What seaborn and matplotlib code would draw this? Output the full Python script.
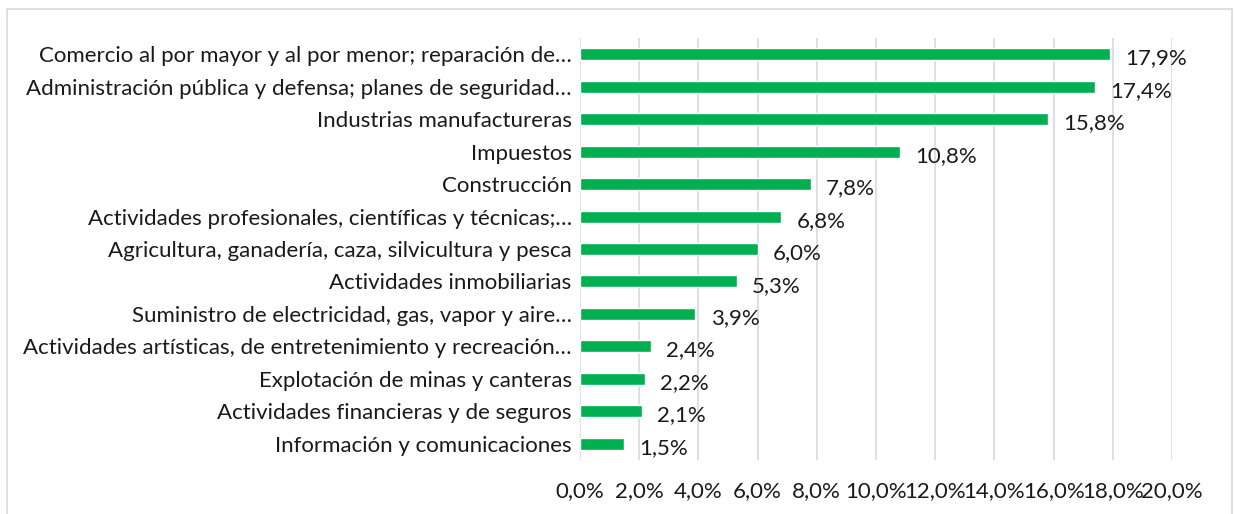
import matplotlib
matplotlib.use("Agg")
import matplotlib.pyplot as plt
import seaborn as sns
import pandas as pd
from matplotlib.ticker import FuncFormatter
from matplotlib.patches import Rectangle

categories = [
    "Comercio al por mayor y al por menor; reparación de…",
    "Administración pública y defensa; planes de seguridad…",
    "Industrias manufactureras",
    "Impuestos",
    "Construcción",
    "Actividades profesionales, científicas y técnicas;…",
    "Agricultura, ganadería, caza, silvicultura y pesca",
    "Actividades inmobiliarias",
    "Suministro de electricidad, gas, vapor y aire…",
    "Actividades artísticas, de entretenimiento y recreación…",
    "Explotación de minas y canteras",
    "Actividades financieras y de seguros",
    "Información y comunicaciones",
]
values = [17.9, 17.4, 15.8, 10.8, 7.8, 6.8, 6.0, 5.3, 3.9, 2.4, 2.2, 2.1, 1.5]
x_ticks = [0, 2, 4, 6, 8, 10, 12, 14, 16, 18, 20]

df = pd.DataFrame({"cat": categories, "val": values})

sns.set_theme(style="white")
plt.rcParams["font.family"] = ["Lato", "DejaVu Sans"]

FS = 16
fig = plt.figure(figsize=(12.34, 5.14), dpi=100)
ax = fig.add_axes([580 / 1234, 1 - 460 / 514, (1172 - 580) / 1234, (460 - 38) / 514])

# outer chart border
fig.patches.append(Rectangle((7 / 1234, -0.01), (1232 - 7) / 1234, (514 - 9) / 514 + 0.01,
                             transform=fig.transFigure, fill=False,
                             edgecolor="#d9d9d9", linewidth=1.2, zorder=0))

sns.barplot(data=df, x="val", y="cat", color="#00B050", width=0.37,
            saturation=1, ax=ax, zorder=3)

ax.set_xlim(0, 20)
ax.set_ylim(12.5, -0.5)
ax.set_xticks(x_ticks)
ax.xaxis.set_major_formatter(FuncFormatter(lambda v, p: f"{v:.1f}%".replace(".", ",")))
ax.grid(axis="x", color="#d9d9d9", linewidth=1.2, zorder=0)
ax.set_axisbelow(True)
for s in ax.spines.values():
    s.set_visible(False)
ax.set_xlabel("")
ax.set_ylabel("")
ax.tick_params(axis="x", length=0, pad=15, labelsize=FS, labelcolor="#1a1a1a")
ax.tick_params(axis="y", length=0, pad=6, labelsize=FS, labelcolor="#1a1a1a")

for i, v in enumerate(values):
    ax.annotate(f"{v:.1f}%".replace(".", ","), xy=(v, i), xytext=(11, -3),
                textcoords="offset points", ha="left", va="center",
                fontsize=FS, color="#1a1a1a")

fig.savefig("out.png", dpi=100)
